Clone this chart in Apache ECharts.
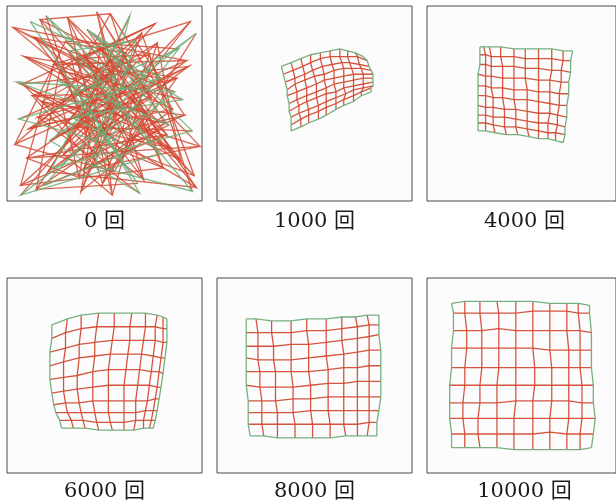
<!DOCTYPE html>
<html>
<head>
<meta charset="utf-8">
<title>SOM</title>
<script src="https://cdn.jsdelivr.net/npm/echarts@6/dist/echarts.min.js"></script>
<style>
  html, body { margin: 0; padding: 0; background: #fff; }
  #chart { width: 616px; height: 504px; }
</style>
</head>
<body>
<div id="chart"></div>
<script>
// learning steps shown under each panel
const labels = ['0 回', '1000 回', '4000 回', '6000 回', '8000 回', '10000 回']

// node weights of the 10x10 map (row by row, 0-100, y down)
const x0 = [
  [12, 67, 34, 88, 51, 6, 79, 41, 95, 23],
  [58, 15, 72, 30, 96, 47, 9, 84, 36, 63],
  [90, 27, 55, 4, 69, 38, 81, 18, 61, 44],
  [33, 76, 8, 93, 25, 57, 46, 70, 14, 86],
  [65, 40, 97, 21, 52, 11, 74, 31, 89, 5],
  [19, 82, 48, 60, 3, 92, 29, 54, 77, 42],
  [71, 10, 37, 85, 62, 24, 94, 50, 16, 68],
  [45, 99, 28, 53, 80, 7, 59, 35, 87, 22],
  [83, 39, 64, 17, 43, 91, 13, 73, 49, 97],
  [26, 56, 7, 78, 32, 66, 45, 95, 20, 61]
]
const y0 = [
  [8, 91, 45, 22, 70, 58, 37, 12, 64, 83],
  [29, 94, 55, 18, 87, 40, 26, 73, 62, 5],
  [48, 33, 85, 71, 14, 95, 60, 49, 24, 77],
  [57, 9, 40, 31, 67, 52, 3, 89, 16, 44],
  [74, 26, 93, 85, 35, 63, 47, 6, 79, 39],
  [92, 66, 21, 58, 11, 28, 76, 97, 19, 52],
  [36, 78, 88, 53, 42, 30, 8, 64, 57, 96],
  [15, 72, 50, 4, 83, 92, 45, 27, 37, 69],
  [61, 84, 31, 7, 68, 56, 46, 25, 91, 14],
  [38, 60, 97, 76, 23, 18, 82, 95, 5, 43]
]

const x1000 = [
  [33, 38, 43, 48, 53, 58, 63, 67, 71, 75],
  [34, 39, 44, 48, 53, 58, 63, 67, 72, 77],
  [35, 40, 45, 49, 54, 59, 64, 68, 73, 78],
  [36, 40, 45, 50, 55, 60, 65, 69, 74, 79],
  [36, 41, 46, 51, 55, 60, 65, 70, 75, 80],
  [37, 41, 46, 51, 56, 60, 65, 70, 75, 80],
  [37, 42, 46, 51, 56, 61, 65, 70, 75, 80],
  [38, 42, 47, 52, 56, 61, 66, 70, 75, 80],
  [38, 43, 47, 52, 56, 61, 65, 70, 74, 79],
  [38, 43, 47, 52, 56, 61, 65, 70, 74, 79]
]
const y1000 = [
  [31, 29, 27, 25, 24, 23, 22, 23, 24, 26],
  [35, 33, 31, 29, 27, 26, 26, 26, 26, 28],
  [39, 37, 35, 33, 31, 30, 29, 29, 30, 31],
  [43, 40, 38, 36, 35, 33, 32, 32, 32, 33],
  [46, 44, 42, 40, 38, 37, 36, 35, 35, 35],
  [50, 48, 46, 44, 42, 40, 39, 38, 37, 37],
  [54, 51, 49, 47, 45, 44, 42, 41, 40, 39],
  [57, 55, 53, 51, 49, 47, 45, 43, 42, 41],
  [61, 58, 56, 54, 52, 50, 48, 46, 44, 42],
  [64, 62, 60, 58, 56, 53, 51, 49, 46, 44]
]

const x4000 = [
  [28, 30, 33, 39, 46, 52, 59, 66, 72, 77],
  [28, 31, 34, 39, 46, 52, 59, 66, 72, 76],
  [28, 31, 34, 40, 46, 52, 59, 66, 71, 76],
  [27, 31, 34, 40, 46, 52, 59, 65, 71, 75],
  [27, 31, 34, 40, 46, 53, 59, 65, 70, 75],
  [27, 31, 35, 40, 46, 53, 59, 65, 70, 74],
  [27, 31, 35, 41, 47, 53, 59, 65, 69, 74],
  [27, 31, 35, 41, 47, 53, 59, 64, 69, 73],
  [27, 31, 35, 41, 47, 53, 59, 64, 68, 73],
  [27, 31, 36, 42, 48, 54, 59, 64, 68, 72]
]
const y4000 = [
  [21, 21, 21, 21, 22, 22, 22, 22, 23, 23],
  [25, 25, 26, 26, 26, 27, 27, 27, 28, 28],
  [30, 30, 31, 31, 31, 32, 32, 33, 33, 34],
  [35, 36, 36, 37, 37, 37, 38, 38, 39, 39],
  [41, 41, 42, 42, 43, 43, 44, 44, 45, 45],
  [46, 46, 47, 47, 48, 48, 49, 50, 51, 51],
  [51, 52, 52, 53, 53, 54, 55, 55, 56, 57],
  [56, 56, 57, 57, 58, 59, 60, 60, 61, 62],
  [60, 60, 61, 62, 62, 63, 64, 65, 65, 66],
  [64, 64, 65, 66, 66, 67, 68, 68, 69, 70]
]

const x6000 = [
  [23, 31, 38, 47, 55, 64, 71, 77, 80, 82],
  [23, 30, 38, 46, 55, 63, 71, 76, 80, 82],
  [22, 30, 37, 45, 54, 63, 70, 76, 80, 82],
  [22, 29, 37, 45, 53, 62, 69, 75, 79, 81],
  [22, 29, 36, 44, 52, 61, 68, 74, 78, 80],
  [23, 29, 36, 44, 52, 60, 67, 73, 77, 79],
  [24, 30, 37, 44, 52, 60, 66, 72, 76, 78],
  [25, 31, 38, 45, 52, 60, 66, 71, 75, 77],
  [27, 33, 39, 46, 53, 60, 66, 70, 74, 76],
  [28, 34, 40, 47, 54, 60, 65, 70, 73, 75]
]
const y6000 = [
  [24, 21, 19, 18, 18, 18, 18, 19, 20, 21],
  [31, 28, 26, 25, 25, 25, 25, 25, 26, 26],
  [38, 36, 34, 33, 32, 32, 32, 32, 33, 33],
  [45, 43, 41, 40, 39, 39, 39, 40, 41, 41],
  [52, 51, 50, 48, 47, 47, 47, 48, 48, 49],
  [59, 58, 57, 56, 55, 55, 55, 55, 56, 56],
  [65, 64, 64, 63, 63, 63, 63, 63, 62, 62],
  [69, 69, 69, 69, 69, 69, 69, 68, 68, 68],
  [73, 73, 73, 74, 74, 74, 73, 73, 73, 73],
  [77, 77, 77, 78, 78, 78, 78, 77, 77, 77]
]

const x8000 = [
  [15, 20, 28, 38, 46, 56, 64, 71, 77, 83],
  [15, 21, 28, 38, 46, 56, 64, 72, 78, 83],
  [15, 21, 29, 38, 47, 56, 64, 72, 78, 83],
  [15, 21, 29, 38, 47, 56, 65, 72, 78, 84],
  [15, 22, 30, 38, 47, 57, 65, 72, 78, 84],
  [15, 22, 30, 39, 48, 57, 65, 72, 78, 84],
  [16, 23, 30, 39, 48, 57, 65, 72, 78, 84],
  [16, 23, 31, 39, 48, 57, 65, 72, 78, 83],
  [16, 23, 31, 40, 49, 58, 65, 72, 78, 82],
  [17, 24, 31, 40, 49, 58, 66, 72, 77, 82]
]
const y8000 = [
  [21, 21, 22, 22, 21, 21, 20, 20, 19, 19],
  [28, 28, 28, 28, 27, 27, 26, 25, 24, 24],
  [35, 35, 35, 34, 34, 33, 32, 31, 30, 29],
  [41, 42, 42, 42, 41, 40, 39, 38, 37, 37],
  [48, 48, 48, 48, 48, 47, 46, 46, 45, 45],
  [55, 56, 56, 56, 55, 54, 54, 53, 53, 53],
  [63, 63, 63, 62, 62, 61, 61, 61, 61, 61],
  [69, 69, 69, 69, 68, 68, 68, 68, 68, 68],
  [75, 75, 75, 75, 75, 75, 75, 75, 74, 74],
  [81, 81, 82, 82, 82, 82, 81, 81, 81, 81]
]

const x10000 = [
  [13, 20, 28, 37, 47, 56, 65, 74, 80, 86],
  [14, 20, 28, 38, 47, 56, 65, 74, 80, 86],
  [14, 21, 29, 38, 47, 56, 65, 74, 81, 87],
  [13, 21, 29, 38, 47, 56, 65, 75, 81, 87],
  [13, 20, 29, 38, 47, 57, 66, 75, 81, 87],
  [12, 20, 28, 37, 47, 57, 66, 75, 82, 88],
  [12, 19, 28, 37, 47, 56, 66, 75, 82, 88],
  [12, 19, 27, 37, 46, 56, 65, 75, 82, 89],
  [13, 20, 27, 37, 46, 56, 65, 74, 81, 88],
  [13, 20, 28, 37, 46, 56, 65, 74, 81, 87]
]
const y10000 = [
  [13, 12, 12, 12, 12, 12, 13, 13, 13, 14],
  [18, 18, 18, 18, 18, 17, 17, 17, 18, 18],
  [27, 27, 27, 26, 27, 27, 27, 27, 27, 28],
  [36, 36, 36, 36, 36, 36, 37, 37, 37, 37],
  [46, 46, 46, 46, 46, 46, 46, 46, 46, 46],
  [55, 55, 55, 55, 55, 55, 55, 55, 55, 55],
  [64, 64, 64, 64, 63, 63, 63, 63, 64, 64],
  [72, 72, 72, 72, 72, 72, 72, 72, 72, 72],
  [80, 80, 80, 80, 80, 80, 79, 80, 80, 80],
  [87, 87, 87, 87, 88, 88, 88, 88, 88, 87]
]

const panelX = [x0, x1000, x4000, x6000, x8000, x10000]
const panelY = [y0, y1000, y4000, y6000, y8000, y10000]

// layout
const colLeft = [7, 217, 427]
const rowTop = [6, 278]
const size = 195
const labelY = [222, 492]
const red = '#d24b34'
const green = '#6ead78'

// rows and columns of the map as polylines; edges of the map drawn separately
function mapLines (xs, ys, edge) {
  const out = []
  for (let i = 0; i < xs.length; i++) {
    const isEdge = i === 0 || i === xs.length - 1
    if (isEdge !== edge) continue
    out.push({ coords: xs[i].map((x, j) => [x, ys[i][j]]) })
    out.push({ coords: xs.map((row, k) => [row[i], ys[k][i]]) })
  }
  return out
}

const grid = []
const xAxis = []
const yAxis = []
const series = []
const graphic = []

labels.forEach((label, k) => {
  const left = colLeft[k % 3]
  const top = rowTop[Math.floor(k / 3)]
  // the untrained map is a tangle, drawn a bit lighter
  const opacity = k === 0 ? 0.85 : 0.95
  grid.push({
    left: left,
    top: top,
    width: size,
    height: size,
    show: true,
    backgroundColor: '#fcfcfc',
    borderColor: '#4a4a4a',
    borderWidth: 1
  })
  xAxis.push({ gridIndex: k, type: 'value', min: 0, max: 100, show: false })
  yAxis.push({ gridIndex: k, type: 'value', min: 0, max: 100, inverse: true, show: false })
  series.push({
    type: 'lines',
    coordinateSystem: 'cartesian2d',
    xAxisIndex: k,
    yAxisIndex: k,
    polyline: true,
    silent: true,
    lineStyle: { color: red, width: 1.3, opacity: opacity },
    data: mapLines(panelX[k], panelY[k], false)
  })
  series.push({
    type: 'lines',
    coordinateSystem: 'cartesian2d',
    xAxisIndex: k,
    yAxisIndex: k,
    polyline: true,
    silent: true,
    lineStyle: { color: green, width: 1.3, opacity: opacity },
    data: mapLines(panelX[k], panelY[k], true)
  })
  graphic.push({
    type: 'text',
    x: left + size / 2,
    y: labelY[Math.floor(k / 3)],
    style: {
      text: label,
      fill: '#1a1a1a',
      font: '21px "DejaVu Serif", "Noto Sans CJK JP", serif',
      align: 'center',
      verticalAlign: 'middle',
      textAlign: 'center',
      textVerticalAlign: 'middle'
    }
  })
})

const chart = echarts.init(document.getElementById('chart'))
chart.setOption({
  animation: false,
  backgroundColor: '#fff',
  grid: grid,
  xAxis: xAxis,
  yAxis: yAxis,
  series: series,
  graphic: graphic
})
</script>
</body>
</html>
